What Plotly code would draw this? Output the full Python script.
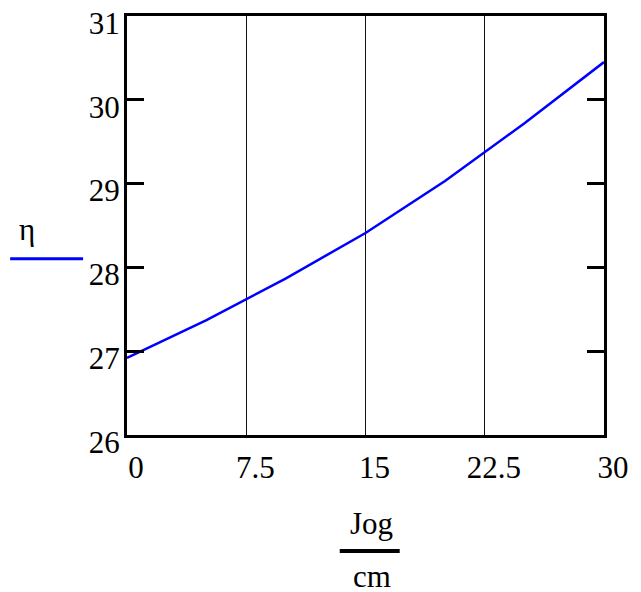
import plotly.graph_objects as go

# Data
jog = [0, 5, 10, 15, 20, 25, 30]
eta = [26.92, 27.37, 27.87, 28.41, 29.03, 29.72, 30.45]
x_ticks = [0, 7.5, 15, 22.5, 30]
x_ticktext = ["0", "7.5", "15", "22.5", "30"]
y_ticks = [26, 27, 28, 29, 30, 31]
y_ticktext = ["26", "27", "28", "29", "30", "31"]

FONT = "Liberation Serif, Times New Roman, serif"
FS = 31

fig = go.Figure()
fig.add_trace(go.Scatter(x=jog, y=eta, mode="lines",
                         line=dict(color="#0000ff", width=2.5),
                         showlegend=False, hoverinfo="skip"))

# page body has an 8px margin; size the figure so the plot lands where the reference has it
fig.update_layout(
    width=633, height=584,
    margin=dict(l=119, r=36.5, t=7.8, b=157, autoexpand=False),
    paper_bgcolor="white", plot_bgcolor="white",
    font=dict(family=FONT, size=FS, color="black"),
    xaxis=dict(
        range=[0, 30], tickvals=x_ticks, ticktext=x_ticktext,
        showgrid=True, gridcolor="#111111", gridwidth=1.3,
        showline=True, linecolor="black", linewidth=3, mirror=True,
        ticks="", zeroline=False, automargin=False,
        ticklabelshift=9, ticklabelstandoff=3, ticklabeloverflow="allow",
        tickfont=dict(family=FONT, size=FS, color="black"),
    ),
    yaxis=dict(
        range=[26, 31], tickvals=y_ticks, ticktext=y_ticktext,
        showgrid=False,
        showline=True, linecolor="black", linewidth=3, mirror="ticks",
        ticks="inside", ticklen=17, tickwidth=3, tickcolor="black",
        zeroline=False, automargin=False,
        ticklabelshift=7, ticklabelstandoff=-2, ticklabeloverflow="allow",
        tickfont=dict(family=FONT, size=FS, color="black"),
    ),
    annotations=[
        dict(text="η", xref="paper", yref="paper", x=-0.2094, y=0.4907,
             xanchor="center", yanchor="middle", showarrow=False,
             font=dict(family=FONT, size=FS, color="black")),
        dict(text="Jog", xref="paper", yref="paper", x=0.512, y=-0.2123,
             xanchor="center", yanchor="middle", showarrow=False,
             font=dict(family=FONT, size=FS, color="black")),
        dict(text="cm", xref="paper", yref="paper", x=0.513, y=-0.3375,
             xanchor="center", yanchor="middle", showarrow=False,
             font=dict(family=FONT, size=FS, color="black")),
    ],
    shapes=[
        dict(type="line", xref="paper", yref="paper",
             x0=-0.245, x1=-0.0921, y0=0.4206, y1=0.4206,
             line=dict(color="#0000ff", width=3)),
        dict(type="line", xref="paper", yref="paper",
             x0=0.446, x1=0.5717, y0=-0.2767, y1=-0.2767,
             line=dict(color="black", width=4)),
    ],
)

fig.write_html("out.html")
